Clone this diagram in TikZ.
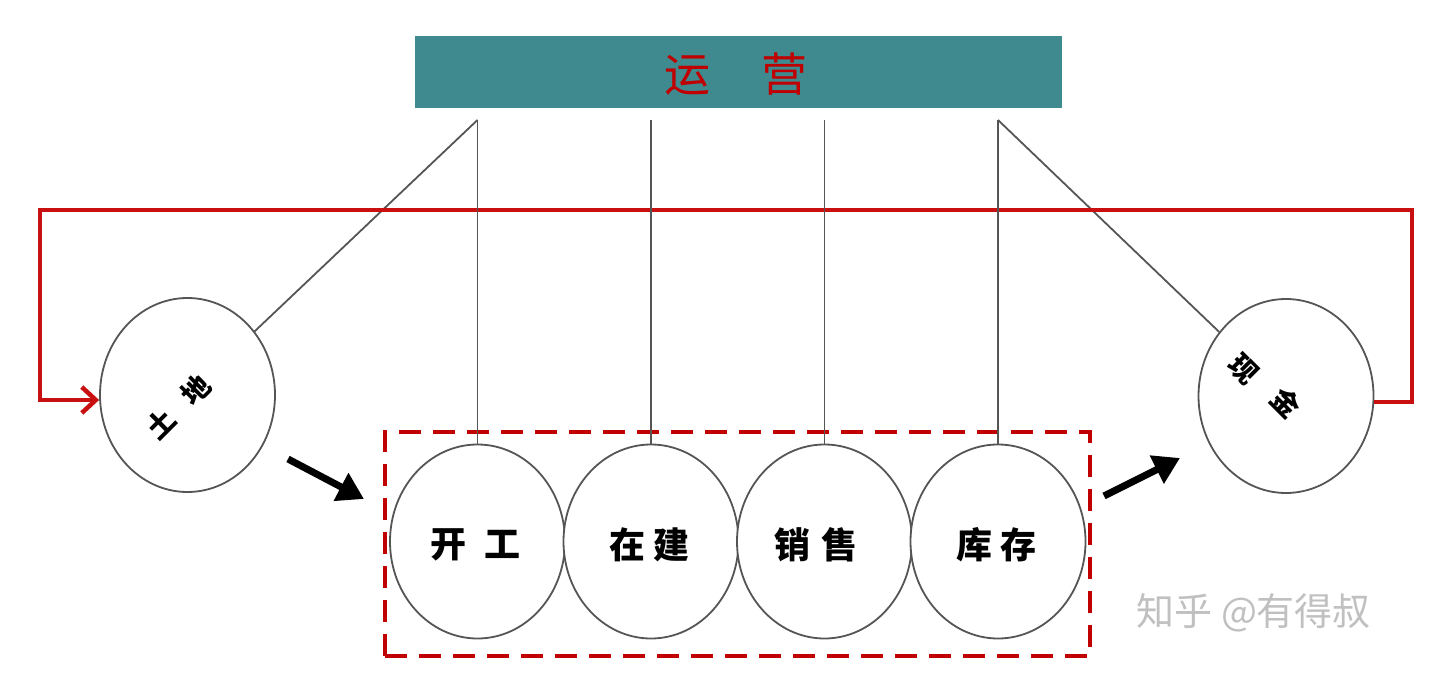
\documentclass[tikz,border=0pt]{standalone}
\usepackage{fontspec}
\newfontfamily\cjk{Noto Sans CJK SC}
\usetikzlibrary{shapes.geometric,arrows.meta}
\definecolor{teal1}{RGB}{62,138,142}
\definecolor{dred}{RGB}{192,0,0}
\definecolor{lred}{RGB}{200,16,16}
\definecolor{lgray}{RGB}{85,85,85}
\definecolor{wm}{RGB}{192,192,192}
\tikzset{
  ball/.style={ellipse,draw=lgray,line width=1.8pt,minimum width=175pt,minimum height=194pt,inner sep=0pt,fill=white},
  balltext/.style={font=\cjk\bfseries\fontsize{36}{36}\selectfont},
  sidetext/.style={font=\cjk\bfseries\fontsize{28}{28}\selectfont,inner sep=0pt},
  string/.style={draw=lgray,line width=1.8pt},
  loopline/.style={draw=lred,line width=4.5pt,line join=miter,-{Straight Barb[length=14pt,width=26pt]}},
  bigarrow/.style={draw=black,line width=7pt,-{Triangle[length=26pt,width=30pt]}},
  groupbox/.style={draw=dred,line width=4pt,dash pattern=on 22pt off 12pt}
}
\begin{document}
\begin{tikzpicture}[x=1pt,y=-1pt]
\useasboundingbox (0,0) rectangle (1440,674);
% top bar
\node[fill=teal1,minimum width=647pt,minimum height=72pt,inner sep=0pt,anchor=north west] (bar) at (415,36) {};
\node[text=dred,font=\cjk\fontsize{46}{46}\selectfont] (barlbl) at (736,74) {运\hspace{52pt}营};
% pivots
\coordinate (p1) at (477.5,120);
\coordinate (p2) at (651,120);
\coordinate (p3) at (824.5,120);
\coordinate (p4) at (998,120);
% red loop corners
\coordinate (tr) at (1412,210);
\coordinate (tl) at (40,210);
% balls
\node[ball] (land) at (187.5,395) {};
\node[ball] (cash) at (1286,396) {};
\draw[string] (p1) -- (land);
\draw[string] (p4) -- (cash);
\draw[loopline] ([yshift=-6pt]cash.east) -| (tr) -- (tl) |- ([yshift=-5pt]land.west);
\node[sidetext,rotate=45] (landa) at (160,424) {土};
\node[sidetext,rotate=45] (landb) at (196,390) {地};
\node[sidetext,rotate=-45] (casha) at (1243,369) {现};
\node[sidetext,rotate=-45] (cashb) at (1286,403) {金};
% group box
\node[groupbox,minimum width=705pt,minimum height=224pt,inner sep=0pt,anchor=north west] (grp) at (383,430) {};
% four balls
\node[ball] (b1) at (477.5,541.5) {};
\node[ball] (b2) at (651,541.5) {};
\node[ball] (b3) at (824.5,541.5) {};
\node[ball] (b4) at (998,541.5) {};
\draw[string] (p1) -- (b1.north);
\draw[string] (p2) -- (b2.north);
\draw[string] (p3) -- (b3.north);
\draw[string] (p4) -- (b4.north);
\node[balltext] (t1) at (475,545) {开\hspace{18pt}工};
\node[balltext] (t2) at (649,545) {在\hspace{8pt}建};
\node[balltext] (t3) at (816,545) {销\hspace{12pt}售};
\node[balltext] (t4) at (996,545) {库\hspace{8pt}存};
% arrows
\coordinate (a1s) at (288,459);
\coordinate (a1e) at (364,499);
\coordinate (a2s) at (1104,496);
\coordinate (a2e) at (1180,458);
\draw[bigarrow] (a1s) -- (a1e);
\draw[bigarrow] (a2s) -- (a2e);
% watermark
\node[text=wm,font=\cjk\fontsize{38}{38}\selectfont,anchor=west] (wmk) at (1133,613) {知乎 @有得叔};
\end{tikzpicture}
\end{document}
